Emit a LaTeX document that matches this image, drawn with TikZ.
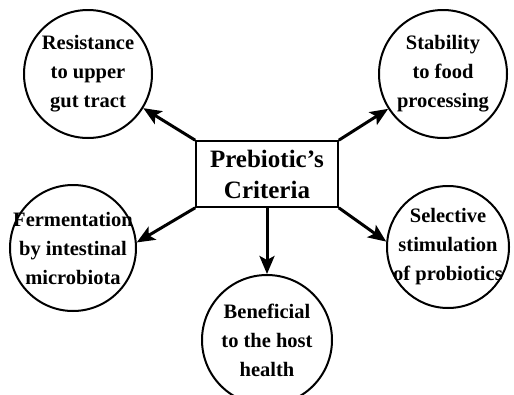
\documentclass[tikz,border=0pt]{standalone}
\usepackage{fontspec}
\setmainfont{Liberation Serif}
\usetikzlibrary{arrows.meta}
\tikzset{
  bubble/.style={draw,circle,line width=2pt,minimum size=128pt,inner sep=0pt},
  bubbletext/.style={align=center,font=\fontsize{20.5}{29}\selectfont\bfseries},
  critbox/.style={draw,line width=1.6pt,minimum width=142pt,minimum height=66pt,
    align=center,font=\fontsize{25}{31}\selectfont\bfseries},
  link/.style={line width=3pt,-{Stealth[length=18pt,width=15pt,inset=4pt]}}
}
\begin{document}
\begin{tikzpicture}[x=1pt,y=-1pt]
          \useasboundingbox (0,0) rectangle (514,394);
          \node[critbox] (crit) at (267,174) {Prebiotic’s\\Criteria};
          \node[bubble] (res) at (88,74) {};
          \node[bubble] (stab) at (443,74) {};
          \node[bubble,minimum size=126pt] (ferm) at (73,248) {};
          \node[bubble,minimum size=122pt] (sel) at (448,247) {};
          \node[bubble,minimum size=130pt] (ben) at (267,340) {};
          \node[bubbletext] at (res) {Resistance\\to upper\\gut tract};
          \node[bubbletext] at (stab) {Stability\\to food\\processing};
          \node[bubbletext] at (ferm) {Fermentation\\by intestinal\\microbiota};
          \node[bubbletext] at (sel) {Selective\\stimulation\\of probiotics};
          \node[bubbletext] at (ben) {Beneficial\\to the host\\health};
          \draw[link] (crit.north west) to (res);
          \draw[link] (crit.north east) to (stab);
          \draw[link] (crit.south west) to (ferm.5);
          \draw[link] (crit.south east) to (sel.175);
          \draw[link] (crit.south) to (ben.north);
        \end{tikzpicture}
\end{document}
